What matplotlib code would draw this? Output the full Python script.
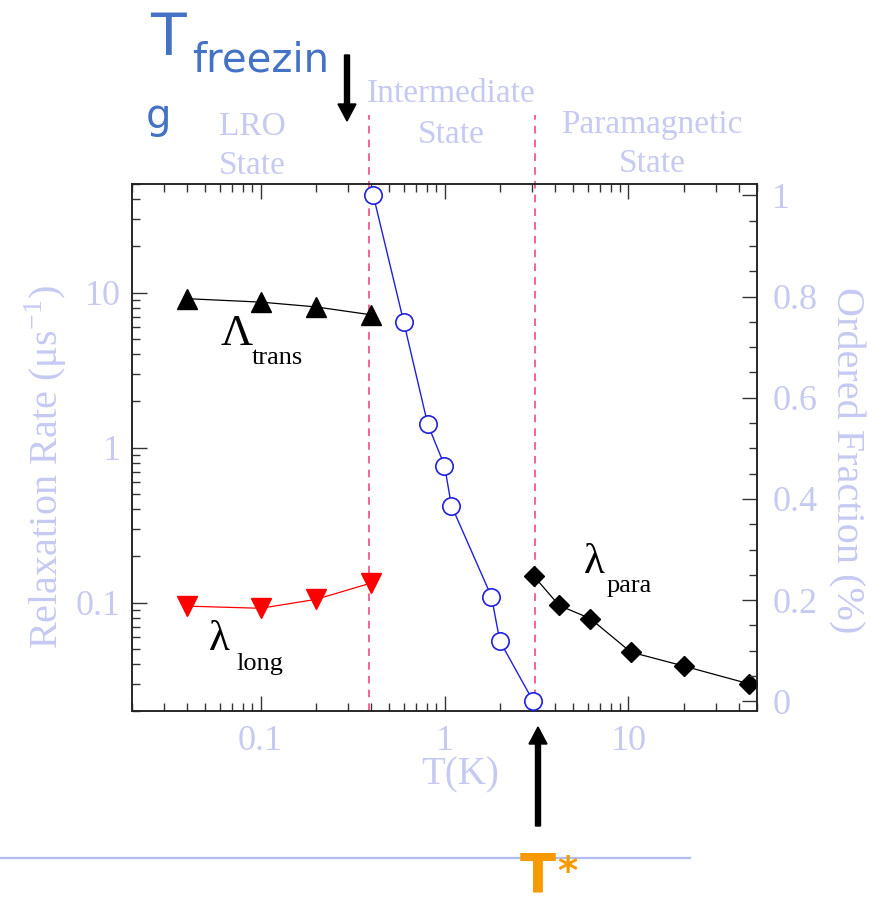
import matplotlib
matplotlib.use("Agg")
import matplotlib.pyplot as plt
from matplotlib.ticker import LogLocator, MultipleLocator, FixedLocator, FixedFormatter, NullFormatter
from matplotlib.patches import FancyArrow
from matplotlib.lines import Line2D
from matplotlib.transforms import IdentityTransform

W, H = 886, 907

# Temperatures (K) and relaxation rates (us^-1)
t_low = [0.04, 0.1, 0.2, 0.4]
lambda_trans = [9.15, 8.7, 8.1, 7.2]
lambda_long = [0.095, 0.092, 0.105, 0.134]

t_para = [3.05, 4.2, 6.2, 10.3, 20.0, 45.0]
lambda_para = [0.149, 0.096, 0.079, 0.048, 0.039, 0.030]

# Ordered fraction vs temperature
t_frac = [0.41, 0.60, 0.81, 1.0, 1.09, 1.80, 2.0, 3.04]
ordered_frac = [1.0, 0.75, 0.548, 0.466, 0.387, 0.207, 0.119, 0.0]

# Phase boundaries (K)
t_freeze = 0.39
t_star = 3.1

x_ticks = [0.1, 1, 10]
x_ticklabels = ["0.1", "1", "10"]
y_ticks = [0.1, 1, 10]
y_ticklabels = ["0.1", "1", "10"]
frac_ticks = [0, 0.2, 0.4, 0.6, 0.8, 1.0]
frac_ticklabels = ["0", "0.2", "0.4", "0.6", "0.8", "1"]

LAV = "#c6caf2"
SERIF = "Liberation Serif"
BLUE_TXT = "#4472c4"
ORANGE = "#f79a00"
DASH = "#ee3b7a"

plt.rcParams["font.family"] = SERIF
plt.rcParams["mathtext.fontset"] = "custom"
plt.rcParams["mathtext.rm"] = SERIF

fig = plt.figure(figsize=(W / 100, H / 100), dpi=100)
fig.patch.set_facecolor("white")

L, R, T, B = 132, 757, 184.4, 711
ax = fig.add_axes([L / W, 1 - B / H, (R - L) / W, (B - T) / H])
ax.set_xscale("log")
ax.set_yscale("log")
ax.set_xlim(0.02, 50)
ax.set_ylim(0.02, 50)

ax.plot(t_low, lambda_trans, color="black", lw=0.9, marker="^", ms=15,
        mfc="black", mec="black", zorder=3)
ax.plot(t_low, lambda_long, color="red", lw=0.9, marker="v", ms=15,
        mfc="red", mec="red", zorder=3)
ax.plot(t_para, lambda_para, color="black", lw=0.9, marker="D", ms=10.5,
        mfc="black", mec="black", zorder=3)

for tb in (t_freeze, t_star):
    ax.axvline(tb, ymin=0, ymax=(B - 115) / (B - T), color=DASH, lw=1.1,
               ls=(0, (5, 4)), clip_on=False, zorder=1)

ax.xaxis.set_major_locator(FixedLocator(x_ticks))
ax.xaxis.set_major_formatter(FixedFormatter(x_ticklabels))
ax.xaxis.set_minor_locator(LogLocator(base=10, subs=range(2, 10), numticks=20))
ax.xaxis.set_minor_formatter(NullFormatter())
ax.yaxis.set_major_locator(FixedLocator(y_ticks))
ax.yaxis.set_major_formatter(FixedFormatter(y_ticklabels))
ax.yaxis.set_minor_locator(LogLocator(base=10, subs=range(2, 10), numticks=20))
ax.yaxis.set_minor_formatter(NullFormatter())

ax.tick_params(which="both", direction="in", top=True, right=False,
               color="#333333", width=1.0)
ax.tick_params(which="major", length=11, labelsize=26, labelcolor=LAV)
ax.tick_params(which="minor", length=5.5)
ax.tick_params(axis="x", which="major", pad=10)
ax.tick_params(axis="y", which="major", pad=8)
for s in ax.spines.values():
    s.set_linewidth(1.1)
    s.set_color("#222222")

ax2 = ax.twinx()
ax2.set_ylim(-0.019, 1.0215)
ax2.plot(t_frac, ordered_frac, color="#2020e0", lw=1.0, marker="o", ms=12.5,
         mfc="white", mec="#2020e0", mew=1.2, zorder=3)
ax2.yaxis.set_major_locator(FixedLocator(frac_ticks))
ax2.yaxis.set_major_formatter(FixedFormatter(frac_ticklabels))
ax2.yaxis.set_minor_locator(MultipleLocator(0.05))
ax2.tick_params(which="both", direction="in", color="#333333", width=1.0)
ax2.tick_params(which="major", length=11, labelsize=26, labelcolor=LAV, pad=11)
ax2.tick_params(which="minor", length=5.5)
for s in ax2.spines.values():
    s.set_linewidth(1.1)
    s.set_color("#222222")


def fx(x):
    return x / W


def fy(y):
    return 1 - y / H


# Axis titles
fig.text(fx(46), fy(467), "Relaxation Rate (μs$^{\\mathregular{-1}}$)", rotation=90,
         ha="center", va="center", fontsize=29, color=LAV)
fig.text(fx(846), fy(460), "Ordered Fraction (%)", rotation=-90,
         ha="center", va="center", fontsize=29, color=LAV)
fig.text(fx(460), fy(784), "T(K)", ha="center", va="baseline",
         fontsize=28, color=LAV)

# Regime labels
for cx, y1, y2, l1 in [(252, 135, 174, "LRO"), (451, 102, 143, "Intermediate"),
                       (652, 133, 172, "Paramagnetic")]:
    fig.text(fx(cx), fy(y1), l1, ha="center", va="baseline", fontsize=24, color=LAV)
    fig.text(fx(cx), fy(y2), "State", ha="center", va="baseline", fontsize=24, color=LAV)

# Series labels
fig.text(fx(221), fy(345), "Λ", fontsize=32, va="baseline", color="black")
fig.text(fx(252), fy(364), "trans", fontsize=19, va="baseline", color="black")
fig.text(fx(209), fy(650), "λ", fontsize=31, va="baseline", color="black")
fig.text(fx(236), fy(670), "long", fontsize=19, va="baseline", color="black")
fig.text(fx(584), fy(573), "λ", fontsize=31, va="baseline", color="black")
fig.text(fx(607), fy(592), "para", fontsize=19, va="baseline", color="black")

# T_freezing annotation
fig.text(fx(150), fy(55), "T", fontsize=42, color=BLUE_TXT, va="baseline",
         family="DejaVu Sans")
fig.text(fx(192), fy(72), "freezin", fontsize=29, color=BLUE_TXT, va="baseline",
         family="DejaVu Sans")
fig.text(fx(146), fy(128), "g", fontsize=29, color=BLUE_TXT, va="baseline",
         family="DejaVu Sans")

# T* annotation
fig.text(fx(520), fy(892), "T", fontsize=38, color=ORANGE, va="baseline",
         family="DejaVu Sans", fontweight="bold")
fig.text(fx(557), fy(884), "*", fontsize=28, color=ORANGE, va="baseline",
         family="DejaVu Sans", fontweight="bold")

fig.add_artist(Line2D([0, 690], [H - 858, H - 858], color="#b3bbf5", lw=1.6,
                      transform=IdentityTransform()))

# Arrows
fig.add_artist(FancyArrow(347, H - 55, 0, -66, width=5, head_width=18,
                          head_length=17, length_includes_head=True,
                          color="black", transform=IdentityTransform()))
fig.add_artist(FancyArrow(538, H - 826, 0, 99, width=5, head_width=18,
                          head_length=17, length_includes_head=True,
                          color="black", transform=IdentityTransform()))

fig.savefig("out.png", dpi=100)
